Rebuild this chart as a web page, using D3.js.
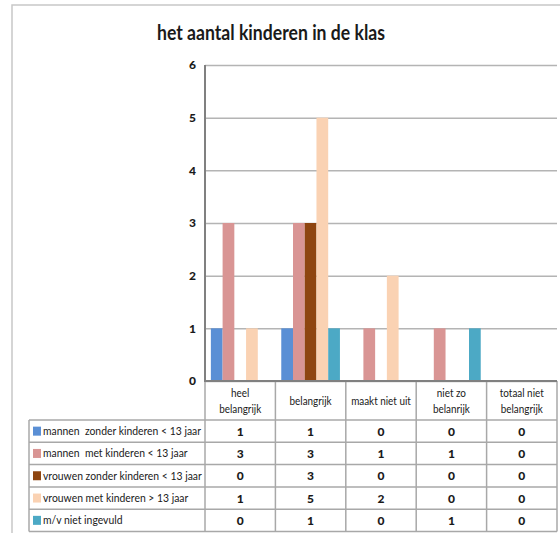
<!DOCTYPE html>
<html>
<head>
<meta charset="utf-8">
<script src="https://cdn.jsdelivr.net/npm/d3@7"></script>
<style>
  html, body { margin: 0; padding: 0; background: #fff; }
  svg { display: block; }
  text { font-family: "Lato", "Open Sans", sans-serif; fill: #1a1a1a; }
</style>
</head>
<body>
<svg id="chart" width="560" height="533"></svg>
<script>
const title = "het aantal kinderen in de klas";
const categories = ["heel belangrijk", "belangrijk", "maakt niet uit", "niet zo belanrijk", "totaal niet belangrijk"];
const categoryLines = [["heel", "belangrijk"], ["belangrijk"], ["maakt niet uit"], ["niet zo", "belanrijk"], ["totaal niet", "belangrijk"]];
const seriesNames = [
  "mannen  zonder kinderen < 13 jaar",
  "mannen  met kinderen < 13 jaar",
  "vrouwen zonder kinderen < 13 jaar",
  "vrouwen met kinderen > 13 jaar",
  "m/v niet ingevuld"
];
const seriesColors = ["#5A8FD5", "#D99594", "#8E4510", "#FAD2B3", "#4CA9C5"];
const mannenZonder = [1, 1, 0, 0, 0];
const mannenMet = [3, 3, 1, 1, 0];
const vrouwenZonder = [0, 3, 0, 0, 0];
const vrouwenMet = [1, 5, 2, 0, 0];
const mvNiet = [0, 1, 0, 1, 0];
const seriesValues = [mannenZonder, mannenMet, vrouwenZonder, vrouwenMet, mvNiet];
const yTicks = [0, 1, 2, 3, 4, 5, 6];

const svg = d3.select("#chart");

// outer frame
svg.append("rect").attr("x", 12).attr("y", 5).attr("width", 600).attr("height", 600)
  .attr("fill", "none").attr("stroke", "#c8c8c8").attr("stroke-width", 1.5);

// title
svg.append("text").attr("x", 271).attr("y", 40).attr("text-anchor", "middle")
  .attr("font-size", 20).attr("font-weight", "bold").text(title)
  .attr("textLength", 228).attr("lengthAdjust", "spacingAndGlyphs");

const plot = {left: 205, right: 557, top: 65, bottom: 381};
const x = d3.scaleBand().domain(categories).range([plot.left, plot.right]).paddingInner(0).paddingOuter(0);
const xs = d3.scaleBand().domain(d3.range(seriesNames.length)).range([0, x.bandwidth()]).paddingInner(0).paddingOuter(0.5);
const y = d3.scaleLinear().domain([0, 6]).range([plot.bottom, plot.top]);

// gridlines
const grid = svg.append("g").attr("transform", `translate(${plot.left},0)`)
  .call(d3.axisLeft(y).tickValues(yTicks).tickSize(-(plot.right - plot.left)).tickFormat(""));
grid.select(".domain").remove();
grid.selectAll("line").attr("stroke", "#b4b4b4").attr("stroke-width", 1.5);

// bars
seriesValues.forEach((vals, si) => {
  svg.append("g").selectAll("rect").data(vals).join("rect")
    .attr("x", (d, i) => x(categories[i]) + xs(si))
    .attr("width", xs.bandwidth())
    .attr("y", d => y(d))
    .attr("height", d => y(0) - y(d))
    .attr("fill", seriesColors[si]);
});

// y axis labels
const yAxis = svg.append("g").attr("transform", `translate(${plot.left},0)`)
  .call(d3.axisLeft(y).tickValues(yTicks).tickSize(0).tickPadding(9).tickFormat(d3.format("d")));
yAxis.select(".domain").remove();
yAxis.selectAll("text").attr("font-size", 12).attr("font-weight", "900")
  .style("font-family", "Lato, sans-serif").attr("fill", "#1a1a1a");

// y axis line
svg.append("line").attr("x1", plot.left).attr("x2", plot.left).attr("y1", plot.top).attr("y2", plot.bottom)
  .attr("stroke", "#808080").attr("stroke-width", 2);

// table
const tableBottom = 531.5;
const headerBottom = 420;
const rowH = (tableBottom - headerBottom) / seriesNames.length;
const legendLeft = 29;
const tcol = "#a8a8a8";
const tbl = svg.append("g");

const bounds = categories.map(c => x(c)).concat([plot.right]);
bounds.forEach(bx => {
  tbl.append("line").attr("x1", bx).attr("x2", bx).attr("y1", plot.bottom).attr("y2", tableBottom)
    .attr("stroke", tcol).attr("stroke-width", 1.5);
});
tbl.append("line").attr("x1", legendLeft).attr("x2", legendLeft).attr("y1", headerBottom).attr("y2", tableBottom)
  .attr("stroke", tcol).attr("stroke-width", 1.5);
d3.range(seriesNames.length + 1).forEach(r => {
  const yy = headerBottom + r * rowH;
  tbl.append("line").attr("x1", legendLeft).attr("x2", plot.right).attr("y1", yy).attr("y2", yy)
    .attr("stroke", tcol).attr("stroke-width", 1.5);
});

// x axis line (on top)
svg.append("line").attr("x1", plot.left - 1).attr("x2", plot.right).attr("y1", plot.bottom).attr("y2", plot.bottom)
  .attr("stroke", "#808080").attr("stroke-width", 2);

// header text
categoryLines.forEach((lines, i) => {
  const cx = x(categories[i]) + x.bandwidth() / 2;
  const midY = (plot.bottom + headerBottom) / 2 + 4;
  lines.forEach((ln, li) => {
    tbl.append("text").attr("x", cx).attr("y", midY + (li - (lines.length - 1) / 2) * 16)
      .attr("text-anchor", "middle").attr("font-size", 11).text(ln)
      .each(function() {
        const w = this.getComputedTextLength();
        this.setAttribute("textLength", w * 0.9);
        this.setAttribute("lengthAdjust", "spacingAndGlyphs");
      });
  });
});

// legend rows + values
const legendTexts = [];
seriesNames.forEach((name, si) => {
  const top = headerBottom + si * rowH;
  tbl.append("rect").attr("x", legendLeft + 4).attr("y", top + rowH / 2 - 4.5).attr("width", 8).attr("height", 9)
    .attr("fill", seriesColors[si]);
  legendTexts.push(tbl.append("text").attr("x", legendLeft + 14).attr("y", top + rowH / 2 + 4)
    .attr("font-size", 11).style("white-space", "pre").text(name));
  seriesValues[si].forEach((v, i) => {
    tbl.append("text").attr("x", x(categories[i]) + x.bandwidth() / 2).attr("y", top + rowH / 2 + 4.5)
      .attr("text-anchor", "middle").attr("font-size", 12).attr("font-weight", "900").text(v);
  });
});
// condense legend text so the first label fits its cell like the reference
const ref = legendTexts[0].node().getComputedTextLength();
const factor = 158 / ref;
legendTexts.forEach(t => {
  const w = t.node().getComputedTextLength();
  t.attr("textLength", w * factor).attr("lengthAdjust", "spacingAndGlyphs");
});
</script>
</body>
</html>
